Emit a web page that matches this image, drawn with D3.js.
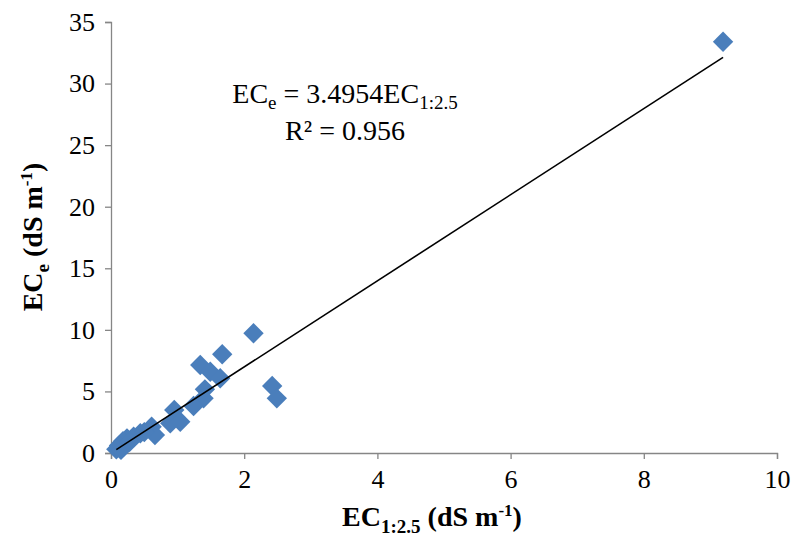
<!DOCTYPE html>
<html><head><meta charset="utf-8">
<script src="https://cdn.jsdelivr.net/npm/d3@7"></script>
<style>body{margin:0;background:#fff} svg text{font-family:"Liberation Serif","Times New Roman",Times,serif !important;}</style>
</head><body>
<svg id="c" width="793" height="544"></svg>
<script>
const xValues = [9.19, 2.14, 1.67, 1.34, 1.49, 1.64, 2.42, 2.49, 1.41, 1.39, 1.24, 0.95, 0.89, 1.04, 0.61, 0.66, 0.44, 0.34, 0.24, 0.18, 0.12, 0.08, 0.15, 0.28, 0.5];
const yValues = [33.4, 9.72, 8.02, 7.15, 6.6, 6.07, 5.44, 4.44, 5.17, 4.44, 3.82, 3.49, 2.41, 2.54, 2.14, 1.46, 1.6, 1.33, 1.19, 0.95, 0.6, 0.3, 0.25, 0.9, 1.7];
const xTicks = [0, 2, 4, 6, 8, 10];
const yTicks = [0, 5, 10, 15, 20, 25, 30, 35];
const slope = 3.4954;

const svg = d3.select("#c");
const x = d3.scaleLinear().domain([0, 10]).range([111, 777]);
const y = d3.scaleLinear().domain([0, 35]).range([453, 22]);
const axisColor = "#868686";

const gx = svg.append("g").attr("transform", `translate(0,${y(0)})`)
  .call(d3.axisBottom(x).tickValues(xTicks).tickSize(6).tickPadding(8).tickFormat(d3.format("d")));
const gy = svg.append("g").attr("transform", `translate(${x(0)},0)`)
  .call(d3.axisLeft(y).tickValues(yTicks).tickSize(6).tickPadding(8).tickFormat(d3.format("d")));
[gx, gy].forEach(g => {
  g.attr("font-family", null).attr("font-size", null);
  g.select(".domain").attr("stroke", axisColor).attr("stroke-width", 1.3);
  g.selectAll(".tick line").attr("stroke", axisColor).attr("stroke-width", 1.3);
  g.selectAll(".tick text").attr("fill", "#000").attr("font-size", 26).style("font-size", "26px");
});
gx.selectAll(".tick text").attr("dy", "0.8em");
gy.selectAll(".tick text").attr("dx", "-2px");

const data = xValues.map((v, i) => ({x: v, y: yValues[i]}));
svg.append("g").selectAll("path").data(data).join("path")
  .attr("transform", d => `translate(${x(d.x)},${y(d.y)}) rotate(45)`)
  .attr("d", "M-7.2,-7.2H7.2V7.2H-7.2Z")
  .attr("fill", "#4a7ebb");

const xmin = d3.min(xValues), xmax = d3.max(xValues);
svg.append("line")
  .attr("x1", x(xmin)).attr("y1", y(slope * xmin))
  .attr("x2", x(xmax)).attr("y2", y(slope * xmax))
  .attr("stroke", "#000").attr("stroke-width", 1.6);

// equation
const eq = svg.append("text").attr("x", 345).attr("y", 103).attr("text-anchor", "middle")
  .style("font-size", "28px");
eq.append("tspan").text("EC");
eq.append("tspan").text("e").attr("dy", 6).style("font-size", "19px");
eq.append("tspan").text(" = 3.4954EC").attr("dy", -6);
eq.append("tspan").text("1:2.5").attr("dy", 6).style("font-size", "19px");
svg.append("text").attr("x", 345).attr("y", 140).attr("text-anchor", "middle")
  .style("font-size", "28px").text("R² = 0.956");

// x title
const xt = svg.append("text").attr("x", 432).attr("y", 526).attr("text-anchor", "middle")
  .style("font-size", "28px").style("font-weight", "bold");
xt.append("tspan").text("EC");
xt.append("tspan").text("1:2.5").attr("dy", 7).style("font-size", "19px");
xt.append("tspan").text(" (dS m").attr("dy", -7);
xt.append("tspan").text("-1").attr("dy", -10).style("font-size", "17px");
xt.append("tspan").text(")").attr("dy", 10);

// y title
const yt = svg.append("text").attr("transform", "translate(42,237) rotate(-90)").attr("text-anchor", "middle")
  .style("font-size", "28px").style("font-weight", "bold");
yt.append("tspan").text("EC");
yt.append("tspan").text("e").attr("dy", 7).style("font-size", "19px");
yt.append("tspan").text(" (dS m").attr("dy", -7);
yt.append("tspan").text("-1").attr("dy", -10).style("font-size", "17px");
yt.append("tspan").text(")").attr("dy", 10);
</script>
</body></html>
